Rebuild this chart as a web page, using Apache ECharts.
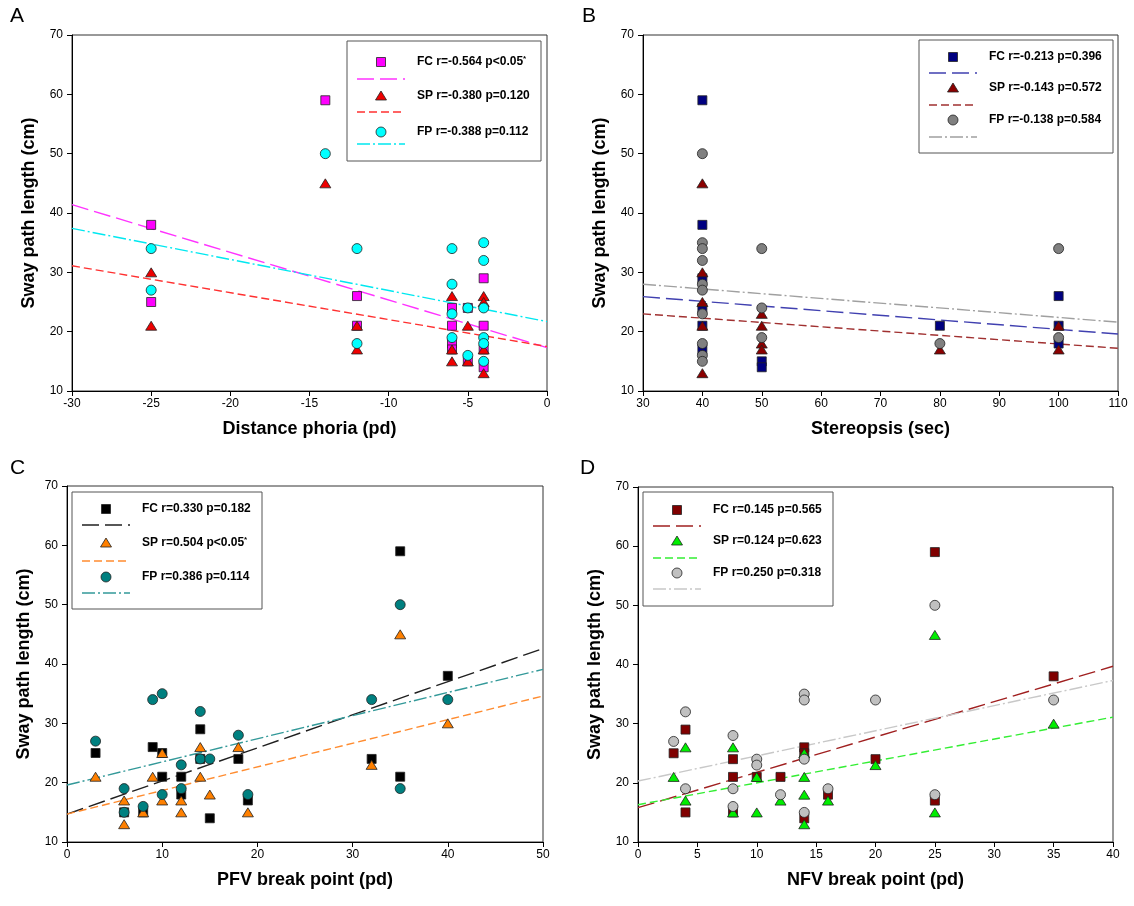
<!DOCTYPE html>
<html><head><meta charset="utf-8">
<script src="https://cdn.jsdelivr.net/npm/echarts@6/dist/echarts.min.js"></script>
<style>html,body{margin:0;padding:0;background:#fff}#c{width:1134px;height:906px}</style>
</head><body><div id="c"></div>
<script>
// ---------- DATA ----------
const panelLetters = ['A','B','C','D'];
const xTitles = ['Distance phoria (pd)','Stereopsis (sec)','PFV break point (pd)','NFV break point (pd)'];
const yTitle = 'Sway path length (cm)';
const legendTexts = [
  ['FC r=-0.564 p<0.05*','SP r=-0.380 p=0.120','FP r=-0.388 p=0.112'],
  ['FC r=-0.213 p=0.396','SP r=-0.143 p=0.572','FP r=-0.138 p=0.584'],
  ['FC r=0.330 p=0.182','SP r=0.504 p<0.05*','FP r=0.386 p=0.114'],
  ['FC r=0.145 p=0.565','SP r=0.124 p=0.623','FP r=0.250 p=0.318']
];
// Panel A: distance phoria
const aFC = [[-25,38],[-25,25],[-14,59],[-12,26],[-12,21],[-6,24],[-6,21],[-6,18],[-6,17],[-5,24],[-5,15],[-4,29],[-4,21],[-4,17],[-4,14]];
const aSP = [[-25,30],[-25,21],[-14,45],[-12,21],[-12,17],[-6,26],[-6,17],[-6,15],[-5,21],[-5,15],[-4,26],[-4,25],[-4,17],[-4,13]];
const aFP = [[-25,34],[-25,27],[-14,50],[-12,34],[-12,18],[-6,34],[-6,28],[-6,23],[-6,19],[-5,24],[-5,16],[-4,35],[-4,32],[-4,24],[-4,19],[-4,18],[-4,15]];
const aFCfit = [[-30,41.4],[0,17.3]];
const aSPfit = [[-30,31.1],[0,17.5]];
const aFPfit = [[-30,37.4],[0,21.7]];
// Panel B: stereopsis
const bFC = [[40,59],[40,38],[40,29],[40,24],[40,21],[40,17],[50,15],[50,14],[80,21],[100,26],[100,21],[100,18]];
const bSP = [[40,45],[40,30],[40,25],[40,21],[40,13],[50,23],[50,21],[50,18],[50,17],[80,17],[100,21],[100,17]];
const bFP = [[40,50],[40,35],[40,34],[40,32],[40,28],[40,27],[40,23],[40,18],[40,16],[40,15],[50,34],[50,24],[50,19],[80,18],[100,34],[100,19]];
const bFCfit = [[30,25.9],[110,19.6]];
const bSPfit = [[30,23.0],[110,17.2]];
const bFPfit = [[30,28.0],[110,21.6]];
// Panel C: PFV break point
const cFC = [[3,25],[6,15],[8,15],[9,26],[10,25],[10,21],[12,21],[12,18],[14,29],[14,24],[15,14],[18,24],[19,17],[32,24],[35,59],[35,21],[40,38]];
const cSP = [[3,21],[6,17],[6,13],[8,15],[9,21],[10,25],[10,17],[12,17],[12,15],[14,26],[14,21],[15,18],[18,26],[19,15],[32,23],[35,45],[40,30]];
const cFP = [[3,27],[6,19],[6,15],[8,16],[9,34],[10,35],[10,18],[12,23],[12,19],[14,32],[14,24],[15,24],[18,28],[19,18],[32,34],[35,50],[35,19],[40,34]];
const cFCfit = [[0,14.7],[50,42.6]];
const cSPfit = [[0,14.7],[50,34.6]];
const cFPfit = [[0,19.6],[50,39.1]];
// Panel D: NFV break point
const dFC = [[3,25],[4,29],[4,15],[8,24],[8,21],[8,15],[10,21],[12,21],[14,26],[14,25],[14,14],[16,18],[20,24],[25,59],[25,17],[35,38]];
const dSP = [[3,21],[4,26],[4,17],[8,26],[8,15],[10,21],[10,15],[12,17],[14,25],[14,21],[14,18],[14,13],[16,17],[20,23],[25,45],[25,15],[35,30]];
const dFP = [[3,27],[4,32],[4,19],[8,28],[8,19],[8,16],[10,24],[10,23],[12,18],[14,35],[14,34],[14,24],[14,15],[16,19],[20,34],[25,50],[25,18],[35,34]];
const dFCfit = [[0,15.8],[40,39.7]];
const dSPfit = [[0,16.3],[40,31.1]];
const dFPfit = [[0,20.3],[40,37.3]];

const xRanges = [[-30,0,5],[30,110,10],[0,50,10],[0,40,5]];
const yRange = [10,70,10];

// ---------- STYLE ----------
const FONT = 'Liberation Sans, Arial, sans-serif';
const grids = [
  {left:72, top:35, width:475, height:356},
  {left:643, top:35, width:475, height:356},
  {left:67, top:486, width:476, height:356},
  {left:638, top:487, width:475, height:355}
];
const panelData = [
  {pts:[aFC,aSP,aFP], fits:[aFCfit,aSPfit,aFPfit]},
  {pts:[bFC,bSP,bFP], fits:[bFCfit,bSPfit,bFPfit]},
  {pts:[cFC,cSP,cFP], fits:[cFCfit,cSPfit,cFPfit]},
  {pts:[dFC,dSP,dFP], fits:[dFCfit,dSPfit,dFPfit]}
];
const fills = [
  ['#ff00ff','#ee0000','#00ffff'],
  ['#000080','#8b0000','#808080'],
  ['#000000','#ff8000','#008080'],
  ['#800000','#00ee00','#c0c0c0']
];
const lineColors = [
  ['#ff33ff','#ff3030','#00e8f0'],
  ['#4040b0','#a03030','#a0a0a0'],
  ['#202020','#ff8c30','#339999'],
  ['#a02020','#33ee33','#c8c8c8']
];
const dashes = [[17,6],[8,4],[13,3,2,3]];
const symbols = ['rect','triangle','circle'];
const symSizes = [[9,9],[11,9],[10,10]];
// legend geometry per panel: box [x,y,w,h], symbol row offsets, line row offsets
const legendGeom = [
  {box:[347,41,194,120], sy:[21,55,91], ly:[38,71,103]},
  {box:[919,40,194,113], sy:[17,48,80], ly:[33,65,97]},
  {box:[72,492,190,117], sy:[17,51,85], ly:[33,69,101]},
  {box:[643,492,190,114], sy:[18,49,81], ly:[34,66,97]}
];
const letterPos = [[10,6],[582,6],[10,458],[580,458]];

const series = [];
const xAxes = [], yAxes = [];
grids.forEach((g,i)=>{
  xAxes.push({
    gridIndex:i, type:'value', min:xRanges[i][0], max:xRanges[i][1], interval:xRanges[i][2],
    name:xTitles[i], nameLocation:'middle', nameGap:29,
    nameTextStyle:{fontFamily:FONT, fontWeight:'bold', fontSize:18, color:'#000'},
    axisLine:{show:true, onZero:false, lineStyle:{color:'#000', width:1}},
    axisTick:{show:true, length:5, lineStyle:{color:'#000'}},
    axisLabel:{fontFamily:FONT, fontSize:12, color:'#000', margin:7},
    splitLine:{show:false}
  });
  yAxes.push({
    gridIndex:i, type:'value', min:yRange[0], max:yRange[1], interval:yRange[2],
    name:yTitle, nameLocation:'middle', nameGap:34, nameRotate:90,
    nameTextStyle:{fontFamily:FONT, fontWeight:'bold', fontSize:18, color:'#000'},
    axisLine:{show:true, onZero:false, lineStyle:{color:'#000', width:1}},
    axisTick:{show:true, length:5, lineStyle:{color:'#000'}},
    axisLabel:{fontFamily:FONT, fontSize:12, color:'#000', margin:9},
    splitLine:{show:false}
  });
  for (let k=0;k<3;k++){
    series.push({
      type:'line', xAxisIndex:i, yAxisIndex:i, data:panelData[i].fits[k],
      symbol:'none', silent:true, z:2,
      lineStyle:{color:lineColors[i][k], width:1.4, type:dashes[k]}
    });
  }
  for (let k=0;k<3;k++){
    series.push({
      type:'scatter', xAxisIndex:i, yAxisIndex:i, data:panelData[i].pts[k],
      symbol:symbols[k], symbolSize:symSizes[k], z:3+k,
      itemStyle:{color:fills[i][k], borderColor:'#222', borderWidth:0.8, opacity:1}
    });
  }
});

// legends and panel letters as graphics
const graphic = [];
legendGeom.forEach((lg,i)=>{
  const [bx,by,bw,bh] = lg.box;
  graphic.push({type:'rect', shape:{x:bx,y:by,width:bw,height:bh},
    style:{fill:'#fff', stroke:'#555', lineWidth:1}, z:10});
  for (let k=0;k<3;k++){
    const sx = bx+34, sy = by+lg.sy[k];
    const st = {fill:fills[i][k], stroke:'#222', lineWidth:0.8};
    if (k===0) graphic.push({type:'rect', shape:{x:sx-4.5,y:sy-4.5,width:9,height:9}, style:st, z:11});
    else if (k===1) graphic.push({type:'polygon', shape:{points:[[sx,sy-5],[sx+5.5,sy+4],[sx-5.5,sy+4]]}, style:st, z:11});
    else graphic.push({type:'circle', shape:{cx:sx,cy:sy,r:5}, style:st, z:11});
    const ly = by+lg.ly[k];
    graphic.push({type:'line', shape:{x1:bx+10,y1:ly,x2:bx+58,y2:ly},
      style:{stroke:lineColors[i][k], lineWidth:1.4, lineDash:dashes[k]}, z:11});
    const t = legendTexts[i][k];
    const star = t.endsWith('*');
    const main = star ? t.slice(0,-1) : t;
    graphic.push({type:'text', x:bx+70, y:sy, z:11,
      style:{text: star ? '{m|'+main+'}{s|*}' : '{m|'+main+'}',
        verticalAlign:'middle', align:'left',
        rich:{m:{fontFamily:FONT, fontWeight:'bold', fontSize:12, color:'#000', lineHeight:15},
              s:{fontFamily:FONT, fontWeight:'bold', fontSize:8, color:'#000', verticalAlign:'top', lineHeight:8}}}});
  }
});
letterPos.forEach((p,i)=>{
  graphic.push({type:'text', x:p[0], y:p[1], z:11,
    style:{text:panelLetters[i], fontFamily:FONT, fontSize:21, fill:'#000'}});
});

const chart = echarts.init(document.getElementById('c'), null, {renderer:'canvas'});
chart.setOption({
  animation:false,
  backgroundColor:'#fff',
  grid: grids.map(g=>Object.assign({show:true, borderColor:'#333', borderWidth:1, backgroundColor:'transparent', containLabel:false}, g)),
  xAxis:xAxes, yAxis:yAxes, series:series, graphic:graphic
});
</script></body></html>
